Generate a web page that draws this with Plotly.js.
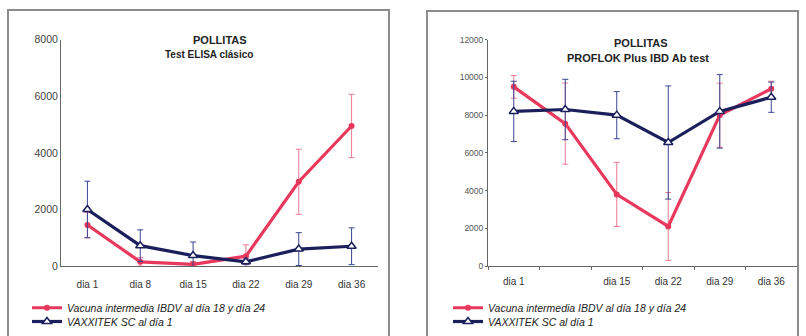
<!DOCTYPE html>
<html>
<head>
<meta charset="utf-8">
<script src="https://cdn.plot.ly/plotly-3.0.1.min.js"></script>
<style>html,body{margin:0;padding:0;background:#fff;}#chart{width:806px;height:336px;}</style>
</head>
<body>
<div id="chart"></div>
<script>
// Categories and tick labels
const days = ['dia 1','dia 8','dia 15','dia 22','dia 29','dia 36'];
const rightTickLabels = ['dia 1','','dia 15','dia 22','dia 29','dia 36'];
const seriesNames = ['Vacuna intermedia IBDV al día 18 y día 24','VAXXITEK SC al día 1'];

// Left panel: Test ELISA clásico
const redLeft = [1450, 150, 60, 350, 2980, 4950];
const redLeftErr = [450, 150, 100, 400, 1150, 1120];
const blueLeft = [2000, 720, 370, 150, 600, 700];
const blueLeftErr = [1000, 560, 480, 100, 580, 650];

// Right panel: PROFLOK Plus IBD Ab test
const redRight = [9500, 7550, 3800, 2100, 8000, 9400];
const redRightErr = [600, 2150, 1700, 1800, 1700, 400];
const blueRight = [8200, 8300, 8000, 6550, 8200, 8950];
const blueRightErr = [1600, 1600, 1250, 3000, 1950, 800];

const RED = '#e8385c', RED_ERR = '#ec7a94', BLUE = '#1b1f5c', BLUE_ERR = '#3a4690';
const FONT = 'Liberation Sans, Arial, sans-serif';

function redTrace(y, err, xa, ya, lg) {
  return {x: days, y: y, xaxis: xa, yaxis: ya, legend: lg, name: seriesNames[0], type: 'scatter',
    mode: 'lines+markers', line: {color: RED, width: 3.2},
    marker: {symbol: 'circle', size: 6, color: RED},
    error_y: {type: 'data', array: err, visible: true, color: RED_ERR, thickness: 1, width: 3}};
}
function blueTrace(y, err, xa, ya, lg) {
  return {x: days, y: y, xaxis: xa, yaxis: ya, legend: lg, name: seriesNames[1], type: 'scatter',
    mode: 'lines+markers', line: {color: BLUE, width: 3.2},
    marker: {symbol: 'triangle-up', size: 8, color: '#ffffff', line: {color: BLUE, width: 1.5}},
    error_y: {type: 'data', array: err, visible: true, color: BLUE_ERR, thickness: 1, width: 3}};
}

const data = [
  redTrace(redLeft, redLeftErr, 'x', 'y', 'legend'),
  blueTrace(blueLeft, blueLeftErr, 'x', 'y', 'legend2'),
  redTrace(redRight, redRightErr, 'x2', 'y2', 'legend3'),
  blueTrace(blueRight, blueRightErr, 'x2', 'y2', 'legend4')
];

const W = 806, H = 336, MB = 60;
const PH = H - MB;                 // plot-area height in pixels (top margin 0)
const fy = (py) => 1 - py / PH;    // pixel row -> paper y
const fx = (px) => px / W;
const ydom = [fy(268), fy(40)];
const legendFont = {family: FONT, size: 10.5, style: 'italic', color: '#222'};
function leg(px, py) {
  return {x: fx(px), y: fy(py), xanchor: 'left', yanchor: 'middle',
    bgcolor: 'rgba(0,0,0,0)', font: legendFont, borderwidth: 0};
}
const titleFont = (s) => ({family: FONT, size: s, color: '#222'});

const layout = {
  width: W, height: H,
  margin: {l: 0, r: 0, t: 0, b: MB, pad: 0},
  paper_bgcolor: '#ffffff', plot_bgcolor: '#ffffff',
  font: {family: FONT, color: '#333'},
  showlegend: true,
  xaxis: {domain: [fx(61), fx(378)], anchor: 'y', type: 'category', range: [-0.5, 5.5],
    showline: true, linecolor: '#666', linewidth: 1, ticks: '', showgrid: false, zeroline: false,
    ticklabelstandoff: 9, tickangle: 0, tickfont: {family: FONT, size: 10, color: '#333'}},
  yaxis: {domain: ydom, anchor: 'x', range: [0, 8000], dtick: 2000, tickformat: 'd',
    showline: true, linecolor: '#666', linewidth: 1, ticks: '', showgrid: false, zeroline: false,
    tickfont: {family: FONT, size: 10.5, color: '#444'}},
  xaxis2: {domain: [fx(488), fx(797)], anchor: 'y2', type: 'category', range: [-0.5, 5.5],
    tickmode: 'array', tickvals: days, ticktext: rightTickLabels,
    showline: true, linecolor: '#666', linewidth: 1, ticks: 'outside', tickson: 'boundaries',
    ticklen: 3, tickcolor: '#666', showgrid: false, zeroline: false,
    ticklabelstandoff: 6, tickangle: 0, tickfont: {family: FONT, size: 10, color: '#333'}},
  yaxis2: {domain: ydom, anchor: 'x2', range: [0, 12000], dtick: 2000, tickformat: 'd',
    showline: true, linecolor: '#666', linewidth: 1, ticks: 'outside', ticklen: 2, tickcolor: '#666',
    showgrid: false, zeroline: false,
    tickfont: {family: FONT, size: 8.5, color: '#555'}},
  legend: leg(27, 310),
  legend2: leg(27, 324),
  legend3: leg(448, 310),
  legend4: leg(448, 324),
  shapes: [
    {type: 'rect', xref: 'paper', yref: 'paper', x0: fx(8), x1: fx(389), y0: fy(345), y1: fy(10),
      line: {color: '#8c8c8c', width: 2}, fillcolor: 'rgba(0,0,0,0)', layer: 'below'},
    {type: 'rect', xref: 'paper', yref: 'paper', x0: fx(427), x1: fx(798), y0: fy(345), y1: fy(11),
      line: {color: '#8c8c8c', width: 2}, fillcolor: 'rgba(0,0,0,0)', layer: 'below'}
  ],
  annotations: [
    {xref: 'paper', yref: 'paper', x: fx(220), y: fy(40), text: '<b>POLLITAS</b>', showarrow: false,
      xanchor: 'center', yanchor: 'middle', font: titleFont(11)},
    {xref: 'paper', yref: 'paper', x: fx(209), y: fy(55), text: '<b>Test ELISA clásico</b>', showarrow: false,
      xanchor: 'center', yanchor: 'middle', font: titleFont(10)},
    {xref: 'paper', yref: 'paper', x: fx(641), y: fy(43), text: '<b>POLLITAS</b>', showarrow: false,
      xanchor: 'center', yanchor: 'middle', font: titleFont(11)},
    {xref: 'paper', yref: 'paper', x: fx(638), y: fy(58), text: '<b>PROFLOK Plus IBD Ab test</b>', showarrow: false,
      xanchor: 'center', yanchor: 'middle', font: titleFont(11)}
  ]
};

Plotly.newPlot('chart', data, layout, {displayModeBar: false, staticPlot: true});
</script>
</body>
</html>
